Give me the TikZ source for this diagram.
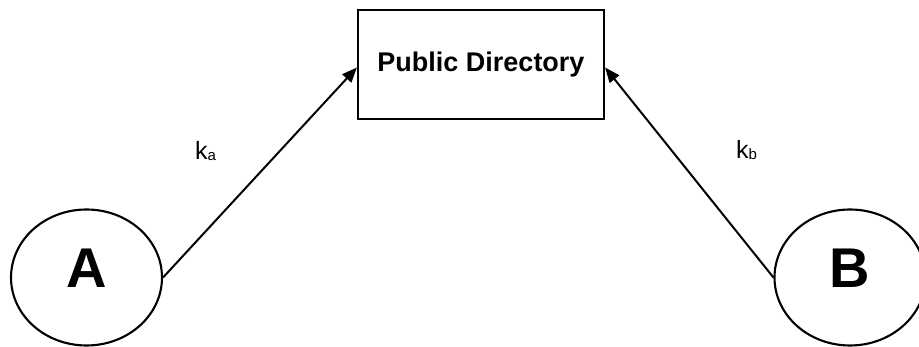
\documentclass[tikz,border=0pt]{standalone}
\usepackage{fontspec}
\setmainfont{Liberation Sans}
\usetikzlibrary{shapes.geometric,arrows.meta}

\tikzset{
  party/.style={draw, ellipse, line width=2.1pt, inner sep=0pt,
    minimum width=151pt, minimum height=136pt, text depth=19pt,
    font=\fontsize{56}{56}\selectfont\bfseries},
  dirbox/.style={draw, rectangle, line width=2.2pt, inner sep=0pt,
    minimum width=246pt, minimum height=109pt,
    font=\fontsize{27}{27}\selectfont\bfseries},
  keyarrow/.style={line width=2pt, -{Triangle[length=15pt,width=12pt]}},
  keylabel/.style={anchor=base west, inner sep=0pt,
    font=\fontsize{25}{25}\selectfont}
}
\newcommand{\keysub}[1]{\raisebox{-1pt}{\fontsize{15}{15}\selectfont #1}}

\begin{document}
\begin{tikzpicture}[x=1pt, y=-1pt]
  \clip (0,0) rectangle (919,347);

  % the directory and the two parties
  \node[dirbox] (dir) at (481,64.5) {Public Directory};
  \node[party] (A) at (86.5,277.5) {A};
  \node[party] (B) at (850,277.5) {B};

  % each party publishes its key
  \draw[keyarrow] (A.east) -- ([yshift=-3pt]dir.west);
  \draw[keyarrow] (B.west) -- ([yshift=-3pt]dir.east);

  \node[keylabel] (ka) at (195,160) {k\keysub{a}};
  \node[keylabel] (kb) at (736,159) {k\keysub{b}};
\end{tikzpicture}
\end{document}
